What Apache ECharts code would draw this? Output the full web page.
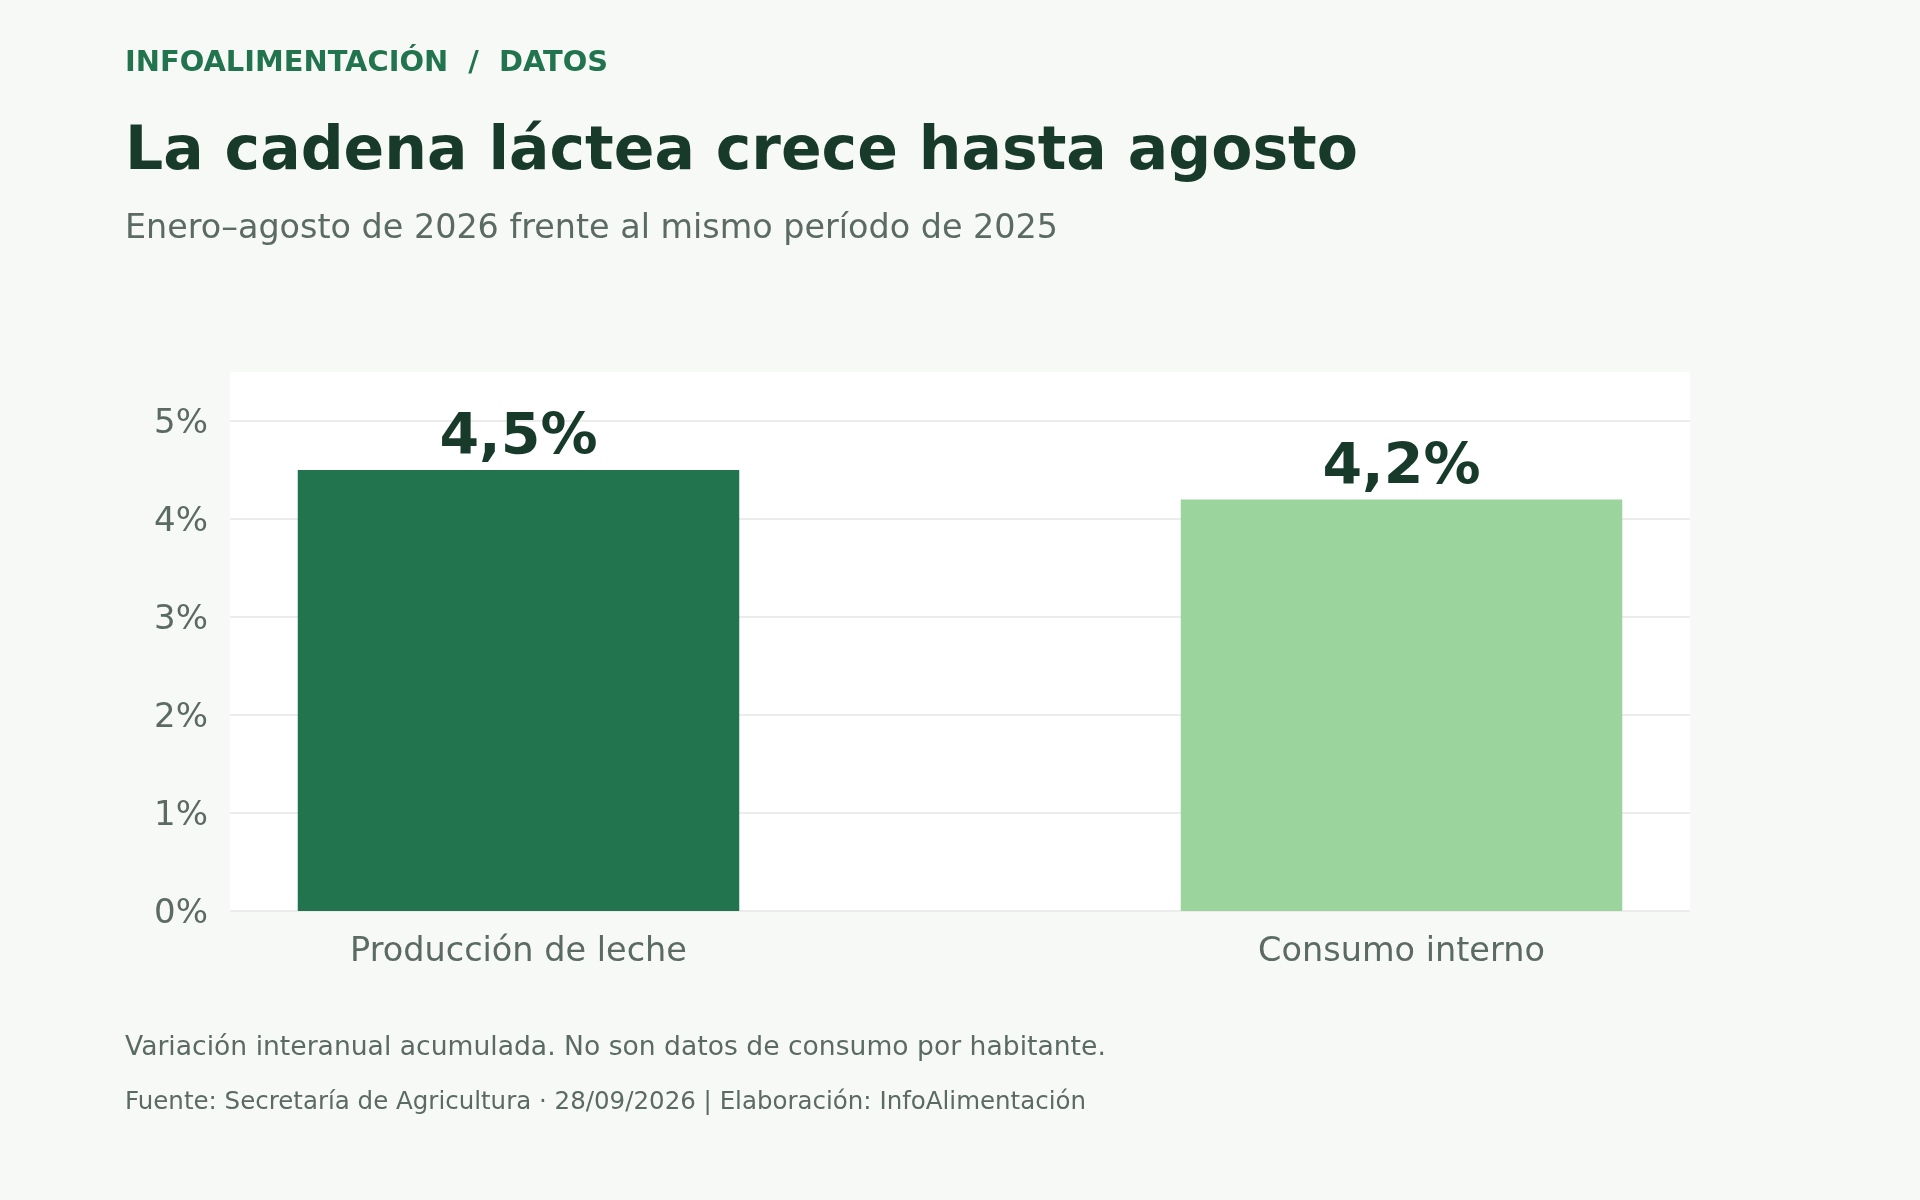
<!DOCTYPE html>
<html>
<head>
<meta charset="utf-8">
<script src="https://cdn.jsdelivr.net/npm/echarts@6/dist/echarts.min.js"></script>
<style>
html,body{margin:0;padding:0;background:#f7f9f7;}
#chart{width:1920px;height:1200px;}
</style>
</head>
<body>
<div id="chart"></div>
<script>
const categories = ['Producción de leche', 'Consumo interno'];
const values = [4.5, 4.2];
const yTicks = [0, 1, 2, 3, 4, 5];
const kicker = 'INFOALIMENTACIÓN  /  DATOS';
const titleText = 'La cadena láctea crece hasta agosto';
const subtitleText = 'Enero–agosto de 2026 frente al mismo período de 2025';
const noteText = 'Variación interanual acumulada. No son datos de consumo por habitante.';
const sourceText = 'Fuente: Secretaría de Agricultura · 28/09/2026 | Elaboración: InfoAlimentación';

const BAR_COLORS = ['#21744d', '#9bd49c'];
const FONT = 'DejaVu Sans';
const GRAY = '#5b6b64';
const DARK = '#183a2b';

const chart = echarts.init(document.getElementById('chart'));
const fmt = v => v.toFixed(1).replace('.', ',') + '%';

chart.setOption({
  backgroundColor: '#f7f9f7',
  animation: false,
  title: [
    {text: kicker, left: 125, top: 49, padding: 0,
     textStyle: {fontFamily: FONT, fontSize: 28.9, fontWeight: 'bold', color: '#21744d'}},
    {text: titleText, left: 125, top: 123, padding: 0,
     textStyle: {fontFamily: FONT, fontSize: 60, fontWeight: 'bold', color: DARK}},
    {text: subtitleText, left: 125, top: 212.5, padding: 0,
     textStyle: {fontFamily: FONT, fontSize: 33.4, fontWeight: 'normal', color: GRAY}},
    {text: noteText, left: 125, top: 1035, padding: 0,
     textStyle: {fontFamily: FONT, fontSize: 26.6, fontWeight: 'normal', color: GRAY}},
    {text: sourceText, left: 125, top: 1090, padding: 0,
     textStyle: {fontFamily: FONT, fontSize: 24.5, fontWeight: 'normal', color: GRAY}}
  ],
  grid: [
    {left: 230, right: 230, top: 372, bottom: 289, show: true, backgroundColor: '#ffffff', borderWidth: 0},
    {left: 77, right: 77, top: 372, bottom: 289}
  ],
  xAxis: [
    {type: 'category', gridIndex: 0, data: categories, show: false},
    {type: 'category', gridIndex: 1, data: categories,
     axisLine: {show: false}, axisTick: {show: false},
     axisLabel: {fontFamily: FONT, fontSize: 33.5, color: GRAY, margin: 24.5}}
  ],
  yAxis: [
    {type: 'value', gridIndex: 0, min: yTicks[0], max: 5.5, interval: 1,
     axisLine: {show: false}, axisTick: {show: false},
     axisLabel: {fontFamily: FONT, fontSize: 34, color: GRAY, margin: 22, showMaxLabel: false,
       verticalAlign: 'top', lineHeight: 6,
       formatter: v => (yTicks.indexOf(v) >= 0 ? v + '%' : '')},
     splitLine: {show: true, showMaxLine: false, lineStyle: {color: '#ececec', width: 2}}},
    {type: 'value', gridIndex: 1, min: yTicks[0], max: 5.5, interval: 1, show: false,
     splitLine: {show: false}}
  ],
  series: [{
    type: 'bar',
    xAxisIndex: 1,
    yAxisIndex: 1,
    barWidth: '50%',
    data: values.map((v, i) => ({value: v, itemStyle: {color: BAR_COLORS[i]}})),
    label: {show: true, position: 'top', distance: 2,
      fontFamily: FONT, fontSize: 57, fontWeight: 'bold', color: DARK,
      formatter: p => fmt(p.value)}
  }]
});
</script>
</body>
</html>
